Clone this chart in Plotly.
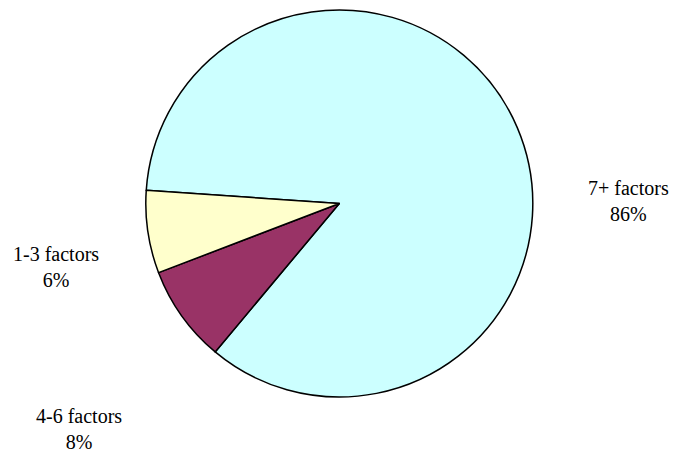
import plotly.graph_objects as go

categories = ["7+ factors", "4-6 factors", "1-3 factors"]
values = [85.0, 8.1, 6.9]
pct_labels = ["86%", "8%", "6%"]
colors = ["#CCFFFF", "#993366", "#FFFFCC"]

W, H = 676, 455
cx, cy, r = 339.3, 203.5, 193.5

fig = go.Figure(go.Pie(
    labels=categories,
    values=values,
    sort=False,
    direction="clockwise",
    rotation=-86.1,
    marker=dict(colors=colors, line=dict(color="black", width=1.5)),
    textinfo="none",
    hoverinfo="label+percent",
    showlegend=False,
    domain=dict(x=[(cx - r) / W, (cx + r) / W], y=[(H - cy - r) / H, (H - cy + r) / H]),
))

label_pos = [(628, 200.5), (78.5, 429.0), (56, 266.5)]
font = dict(family="Liberation Serif, Times New Roman, serif", size=20, color="black")
for cat, pct, (px, py) in zip(categories, pct_labels, label_pos):
    fig.add_annotation(
        text=f"{cat}<br>{pct}", x=px / W, y=1 - py / H, xref="paper", yref="paper",
        xanchor="center", yanchor="middle", showarrow=False, align="center", font=font,
    )

fig.update_layout(
    width=W, height=H, margin=dict(l=0, r=0, t=0, b=0),
    paper_bgcolor="white", plot_bgcolor="white",
)
fig.write_html(
    "out.html",
    config={"displayModeBar": False},
    post_script="document.body.style.margin='0';document.body.style.padding='0';document.body.style.overflow='hidden';",
)
